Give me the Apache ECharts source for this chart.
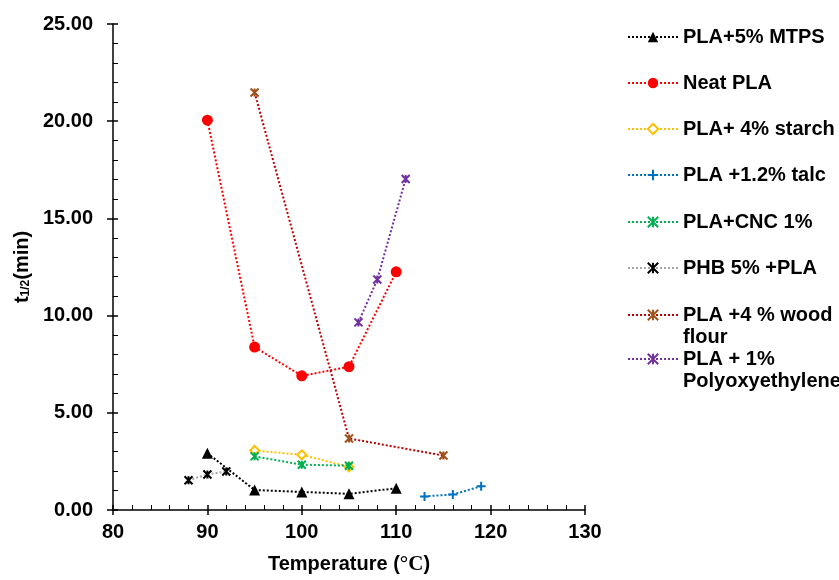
<!DOCTYPE html>
<html>
<head>
<meta charset="utf-8">
<script src="https://cdn.jsdelivr.net/npm/echarts@6/dist/echarts.min.js"></script>
<style>
  html, body { margin: 0; padding: 0; background: #fff; }
  #chart { width: 839px; height: 580px; }
</style>
</head>
<body>
<div id="chart"></div>
<script>
// Half-crystallization time t1/2 (min) versus crystallization temperature (°C)
const seriesNames = [
  'PLA+5% MTPS',
  'Neat PLA',
  'PLA+ 4% starch',
  'PLA +1.2% talc',
  'PLA+CNC 1%',
  'PHB 5% +PLA',
  'PLA +4 % wood flour',
  'PLA + 1% Polyoxyethylene'
];
const legendLines = [
  ['PLA+5% MTPS'],
  ['Neat PLA'],
  ['PLA+ 4% starch'],
  ['PLA +1.2% talc'],
  ['PLA+CNC 1%'],
  ['PHB 5% +PLA'],
  ['PLA +4 % wood', 'flour'],
  ['PLA + 1%', 'Polyoxyethylene']
];

const tempMTPS = [90, 95, 100, 105, 110];
const halfMTPS = [2.92, 1.03, 0.93, 0.83, 1.12];

const tempNeat = [90, 95, 100, 105, 110];
const halfNeat = [20.05, 8.38, 6.90, 7.37, 12.25];

const tempStarch = [95, 100, 105];
const halfStarch = [3.06, 2.84, 2.22];

const tempTalc = [113, 116, 119];
const halfTalc = [0.70, 0.80, 1.22];

const tempCNC = [95, 100, 105];
const halfCNC = [2.76, 2.33, 2.28];

const tempPHB = [88, 90, 92];
const halfPHB = [1.53, 1.83, 1.98];

const tempWood = [95, 105, 115];
const halfWood = [21.48, 3.68, 2.80];

const tempPEO = [106, 108, 111];
const halfPEO = [9.65, 11.86, 17.03];

const xTicks = { min: 80, max: 130, step: 10 };
const yTicks = { min: 0, max: 25, step: 5 };

const FONT = '"Liberation Sans", Arial, sans-serif';

function pairs(xs, ys) { return xs.map((x, i) => [x, ys[i]]); }

const PLUS = 'path://M5,0L5,10M0,5L10,5';
const STAR = 'path://M0,0L10,10M10,0L0,10M5,0L5,10';

function lineSeries(idx, xs, ys, lineColor, symbol, size, itemStyle) {
  return {
    name: seriesNames[idx],
    type: 'line',
    data: pairs(xs, ys),
    symbol: symbol,
    symbolSize: size,
    showAllSymbol: true,
    lineStyle: { color: lineColor, width: 2, type: [2, 2] },
    itemStyle: itemStyle,
    emphasis: { disabled: true },
    z: 3 + idx
  };
}

const series = [
  lineSeries(0, tempMTPS, halfMTPS, '#000000', 'triangle', 11, { color: '#000000' }),
  lineSeries(1, tempNeat, halfNeat, '#FF0000', 'circle', 11, { color: '#FF0000' }),
  lineSeries(2, tempStarch, halfStarch, '#FFC000', 'diamond', 9,
    { color: '#FFFFFF', borderColor: '#FFC000', borderWidth: 2 }),
  lineSeries(3, tempTalc, halfTalc, '#0070C0', PLUS, 9,
    { color: '#0070C0', borderColor: '#0070C0', borderWidth: 2 }),
  lineSeries(4, tempCNC, halfCNC, '#00B050', STAR, 8,
    { color: '#00B050', borderColor: '#00B050', borderWidth: 2 }),
  lineSeries(5, tempPHB, halfPHB, '#A6A6A6', STAR, 8,
    { color: '#000000', borderColor: '#000000', borderWidth: 2 }),
  lineSeries(6, tempWood, halfWood, '#C00000', STAR, 8,
    { color: '#A0521C', borderColor: '#A0521C', borderWidth: 2 }),
  lineSeries(7, tempPEO, halfPEO, '#7030A0', STAR, 8,
    { color: '#7030A0', borderColor: '#7030A0', borderWidth: 2 })
];

// One legend block per entry; a two-line label gets an empty line on top so
// that its first line sits level with the icon.
const legendCenters = [37, 83, 129, 175, 222, 268, 315, 359];
const LINE_H = 22;
const legends = seriesNames.map((name, i) => {
  const lines = legendLines[i];
  const twoLine = lines.length > 1;
  const text = twoLine
    ? '{e| }\n' + lines.map(l => '{a|' + l + '}').join('\n')
    : '{a|' + lines[0] + '}';
  return {
    data: [name],
    orient: 'vertical',
    left: 627,
    top: legendCenters[i] - (twoLine ? LINE_H * 1.5 : LINE_H / 2),
    padding: 0,
    itemWidth: 50,
    itemHeight: 13,
    itemGap: 5,
    selectedMode: false,
    formatter: () => text,
    textStyle: {
      fontFamily: FONT,
      fontSize: 20,
      fontWeight: 'bold',
      color: '#000',
      lineHeight: LINE_H,
      rich: {
        a: { fontFamily: FONT, fontSize: 20, fontWeight: 'bold', color: '#000', lineHeight: LINE_H },
        e: { fontSize: 20, lineHeight: LINE_H }
      }
    }
  };
});

const axisLabelStyle = {
  fontFamily: FONT, fontSize: 20, fontWeight: 'bold', color: '#000'
};

const option = {
  animation: false,
  backgroundColor: '#ffffff',
  grid: { left: 113, right: 254, top: 24, bottom: 67, containLabel: false },
  legend: legends,
  xAxis: [
    {
      type: 'value',
      min: xTicks.min, max: xTicks.max, interval: xTicks.step,
      position: 'bottom',
      name: '{a|Temperature (}{b|°C}{a|)}',
      nameLocation: 'middle',
      nameGap: 44,
      nameTextStyle: {
        rich: {
          a: { fontFamily: FONT, fontSize: 20, fontWeight: 'bold', color: '#000' },
          b: { fontFamily: '"Liberation Serif", "Times New Roman", serif', fontSize: 21, fontWeight: 'bold', color: '#000' }
        }
      },
      axisLine: { show: true, onZero: false, lineStyle: { color: '#000', width: 1.5 } },
      axisTick: { show: true, inside: true, length: 5, lineStyle: { color: '#000', width: 1.5 } },
      minorTick: { show: true, splitNumber: 5, length: 5, lineStyle: { color: '#000', width: 1 } },
      splitLine: { show: false },
      axisLabel: Object.assign({ margin: 12 }, axisLabelStyle)
    },
    {
      type: 'value',
      min: xTicks.min, max: xTicks.max, interval: xTicks.step,
      position: 'bottom',
      axisLine: { show: false },
      axisTick: { show: true, inside: false, length: 5, lineStyle: { color: '#000', width: 1.5 } },
      minorTick: { show: false },
      splitLine: { show: false },
      axisLabel: { show: false }
    }
  ],
  yAxis: [
    {
      type: 'value',
      min: yTicks.min, max: yTicks.max, interval: yTicks.step,
      position: 'left',
      name: '{t|t}{s|1/2}{t|(min)}',
      nameLocation: 'middle',
      nameRotate: 90,
      nameGap: 76,
      nameTextStyle: {
        rich: {
          t: { fontFamily: FONT, fontSize: 20, fontWeight: 'bold', color: '#000', lineHeight: 24, verticalAlign: 'bottom' },
          s: { fontFamily: FONT, fontSize: 12, fontWeight: 'bold', color: '#000', lineHeight: 12, verticalAlign: 'bottom' }
        }
      },
      axisLine: { show: true, onZero: false, lineStyle: { color: '#000', width: 1.5 } },
      axisTick: { show: true, inside: true, length: 5, lineStyle: { color: '#000', width: 1.5 } },
      minorTick: { show: true, splitNumber: 5, length: 5, lineStyle: { color: '#000', width: 1 } },
      splitLine: { show: false },
      axisLabel: Object.assign({ margin: 20, formatter: v => v.toFixed(2) }, axisLabelStyle)
    },
    {
      type: 'value',
      min: yTicks.min, max: yTicks.max, interval: yTicks.step,
      position: 'left',
      axisLine: { show: false },
      axisTick: { show: true, inside: false, length: 6, lineStyle: { color: '#000', width: 1.5 } },
      minorTick: { show: false },
      splitLine: { show: false },
      axisLabel: { show: false }
    }
  ],
  series: series
};

const chart = echarts.init(document.getElementById('chart'), null, { renderer: 'canvas' });
chart.setOption(option);
</script>
</body>
</html>
